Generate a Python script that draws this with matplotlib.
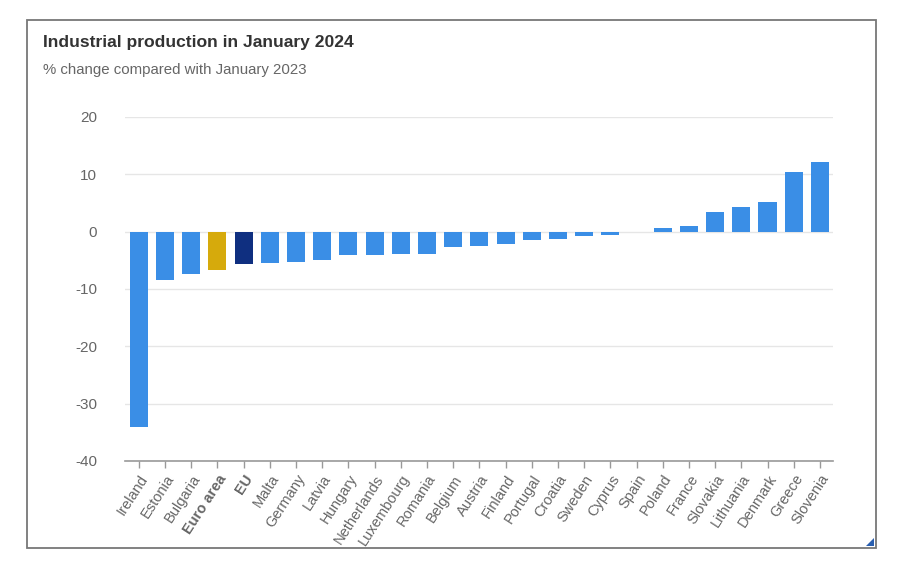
import numpy as np
import matplotlib
matplotlib.use("Agg")
import matplotlib.pyplot as plt
from matplotlib.patches import Rectangle, Polygon

plt.rcParams["font.family"] = ["Liberation Sans", "DejaVu Sans"]

countries = ["Ireland", "Estonia", "Bulgaria", "Euro area", "EU", "Malta", "Germany",
             "Latvia", "Hungary", "Netherlands", "Luxembourg", "Romania", "Belgium",
             "Austria", "Finland", "Portugal", "Croatia", "Sweden", "Cyprus", "Spain",
             "Poland", "France", "Slovakia", "Lithuania", "Denmark", "Greece", "Slovenia"]
change = [-34.0, -8.5, -7.4, -6.6, -5.6, -5.5, -5.3, -4.9, -4.1, -4.1, -3.9, -3.9, -2.6,
          -2.5, -2.2, -1.5, -1.3, -0.8, -0.5, 0.0, 0.6, 1.0, 3.5, 4.3, 5.2, 10.4, 12.1]
yticks = [20, 10, 0, -10, -20, -30, -40]

blue = "#3a8ee6"
gold = "#d6aa0c"
navy = "#0f2f80"
colors = [gold if c == "Euro area" else navy if c == "EU" else blue for c in countries]

W, H = 899, 562
fig = plt.figure(figsize=(W / 100, H / 100), dpi=100)

# outer frame of the screenshot
fig.patches.append(Rectangle((26.5 / W, 1 - 548 / H), (876 - 26.5) / W, (548 - 19.5) / H,
                             transform=fig.transFigure, fill=False, edgecolor="#777777",
                             linewidth=1.3))
fig.patches.append(Polygon([(874 / W, 1 - 538 / H), (874 / W, 1 - 546 / H), (866 / W, 1 - 546 / H)],
                           closed=True, transform=fig.transFigure, facecolor="#2a5fb0",
                           edgecolor="none"))

fig.text(43 / W, 1 - 42 / H, "Industrial production in January 2024", fontsize=12.6,
         fontweight="bold", color="#333333", va="center", ha="left")
fig.text(43 / W, 1 - 70 / H, "% change compared with January 2023", fontsize=10.8,
         color="#666666", va="center", ha="left")

ax = fig.add_axes([125 / W, 1 - 461 / H, (833 - 125) / W, (461 - 117) / H])
x = np.arange(len(countries))
ax.bar(x, change, width=0.69, color=colors, zorder=3)

ax.set_xlim(-0.53, len(countries) - 0.5)
ax.set_ylim(-40, 20)
ax.set_yticks(yticks)
ax.set_yticklabels([str(t) for t in yticks])
ax.grid(axis="y", color="#e6e6e6", linewidth=1, zorder=0)
for s in ["top", "right", "left"]:
    ax.spines[s].set_visible(False)
ax.spines["bottom"].set_color("#999999")
ax.spines["bottom"].set_linewidth(1.2)
ax.tick_params(axis="y", length=0, pad=20, labelsize=11, labelcolor="#666666")
ax.tick_params(axis="x", length=5, color="#999999", width=1, labelsize=10.5,
               labelcolor="#666666", pad=3)

ax.set_xticks(x)
ax.set_xticklabels(countries, rotation=57, ha="right", rotation_mode="anchor")
for lab in ax.get_xticklabels():
    if lab.get_text() in ("Euro area", "EU"):
        lab.set_fontweight("bold")

fig.savefig("out.png", dpi=100, facecolor="white")
